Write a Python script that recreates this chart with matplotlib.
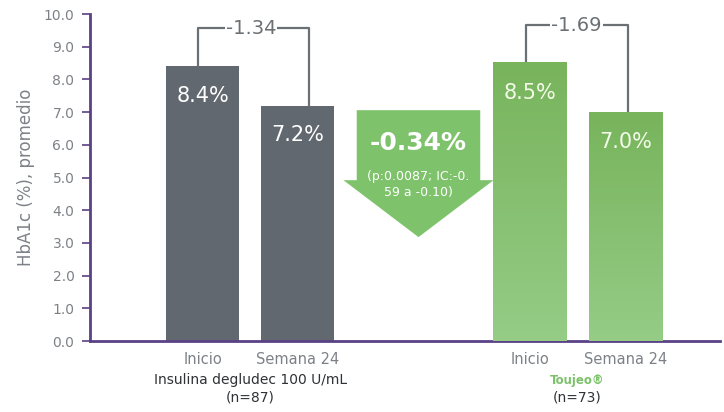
import numpy as np
import matplotlib.pyplot as plt
from matplotlib.colors import LinearSegmentedColormap
from matplotlib.patches import FancyArrow

# data
tick_labels = ["Inicio", "Semana 24", "Inicio", "Semana 24"]
values = [8.4, 7.2, 8.5, 7.0]
positions = [0, 1, 3.44, 4.45]
changes = ["-1.34", "-1.69"]
groups = ["Insulina degludec 100 U/mL", "Toujeo\u00ae"]
group_n = ["(n=87)", "(n=73)"]
diff_label = "-0.34%"
diff_note = "(p:0.0087; IC:-0.\n59 a -0.10)"

gray = "#61686f"
green_top = "#78b45c"
green_bot = "#95cc86"
purple = "#5a4185"
txt = "#7d8187"
line_c = "#6b7075"

fig = plt.figure(figsize=(7.24, 4.12), dpi=100)
ax = fig.add_axes([0.124, 0.172, 0.87, 0.794])

bars = ax.bar(positions, values, width=0.77,
              color=[gray, gray, green_top, green_top], zorder=2)

# gradient on the green bars
cmap = LinearSegmentedColormap.from_list("g", [green_bot, green_top])
grad = np.linspace(0, 1, 100).reshape(-1, 1)
for b in bars[2:]:
    ax.imshow(grad, cmap=cmap, aspect="auto", origin="lower", zorder=3,
              extent=[b.get_x(), b.get_x() + b.get_width(), 0, b.get_height()])

# value labels inside bars
for i, (p, v) in enumerate(zip(positions, values)):
    c = "white" if i < 2 else "#f3fbe8"
    ax.text(p, v - 0.9, f"{v:.1f}%", ha="center", va="center",
            fontsize=15, color=c, zorder=4)

# brackets
bracket_y = [9.57, 9.66]
offs = [(-0.05, 0.12), (-0.04, 0.02)]
for g in range(2):
    x0 = positions[2 * g] + offs[g][0]
    x1 = positions[2 * g + 1] + offs[g][1]
    y = bracket_y[g]
    xm = (x0 + x1) / 2 + (0.0 if g == 1 else -0.03)
    ax.plot([x0, x0, x1, x1], [values[2 * g], y, y, values[2 * g + 1]],
            color=line_c, lw=1.6, zorder=1)
    ax.text(xm, y, changes[g], ha="center", va="center", fontsize=14, color=line_c,
            bbox=dict(boxstyle="square,pad=0.05", fc="white", ec="none"), zorder=2)

# difference arrow
arr = FancyArrow(2.27, 7.06, 0, -3.88, width=1.3, head_width=1.58, head_length=1.74,
                 length_includes_head=True, color="#7ec36c", lw=0, zorder=2)
ax.add_patch(arr)
ax.text(2.27, 6.05, diff_label, ha="center", va="center", fontsize=18,
        fontweight="bold", color="white", zorder=4)
ax.text(2.27, 4.8, diff_note, ha="center", va="center", fontsize=9,
        color="white", linespacing=1.3, zorder=4)

# axes styling
ax.set_xlim(-1.19, 5.44)
ax.set_ylim(0, 10)
ax.set_yticks(np.arange(0, 10.1, 1.0))
ax.set_yticklabels([f"{t:.1f}" for t in np.arange(0, 10.1, 1.0)])
ax.set_xticks(positions)
ax.set_xticklabels(tick_labels)
ax.tick_params(axis="y", colors=purple, labelcolor=txt, labelsize=10, length=6,
               width=1.2, pad=5)
ax.tick_params(axis="x", length=0, labelcolor=txt, labelsize=10.5, pad=8)
for s in ["top", "right"]:
    ax.spines[s].set_visible(False)
for s in ["left", "bottom"]:
    ax.spines[s].set_color(purple)
    ax.spines[s].set_linewidth(2)
ax.set_ylabel("HbA1c (%), promedio", fontsize=12, color=txt, labelpad=6)

# group labels
gx = [(positions[0] + positions[1]) / 2, (positions[2] + positions[3]) / 2]
ax.text(gx[0], -1.2, groups[0], ha="center", va="center", fontsize=10,
        color="#2f3236", clip_on=False)
ax.text(gx[1], -1.2, groups[1], ha="center", va="center", fontsize=8.5,
        fontweight="bold", color="#7cc26a", clip_on=False)
for g in range(2):
    ax.text(gx[g], -1.72, group_n[g], ha="center", va="center", fontsize=10,
            color="#2f3236", clip_on=False)

fig.savefig("out.png", dpi=100, facecolor="white")
